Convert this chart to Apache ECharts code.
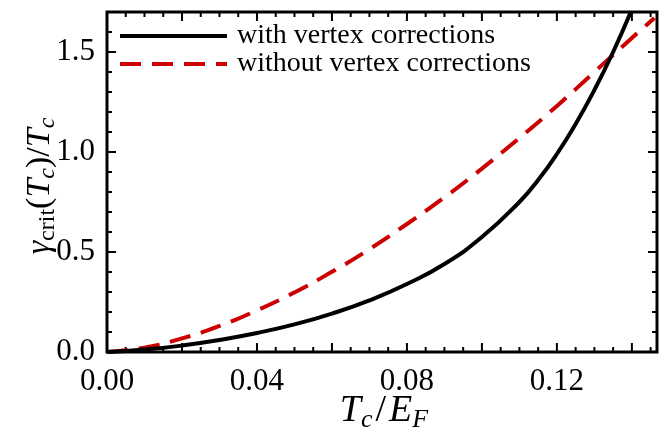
<!DOCTYPE html>
<html>
<head>
<meta charset="utf-8">
<script src="https://cdn.jsdelivr.net/npm/echarts@6/dist/echarts.min.js"></script>
<style>html,body{margin:0;padding:0;background:#fff}#c{width:666px;height:435px}</style>
</head>
<body>
<div id="c"></div>
<script>
// ---- data ----
const seriesNames = ['with vertex corrections', 'without vertex corrections'];
const withX  = [0, 0.01, 0.02, 0.03, 0.04, 0.05, 0.06, 0.07, 0.08, 0.09, 0.10, 0.11, 0.115, 0.12, 0.125, 0.13, 0.135, 0.1397];
const withY  = [0, 0.012, 0.032, 0.06, 0.095, 0.138, 0.192, 0.258, 0.34, 0.44, 0.575, 0.75, 0.86, 0.99, 1.14, 1.31, 1.50, 1.70];
const withoutX = [0, 0.01, 0.02, 0.03, 0.04, 0.05, 0.06, 0.07, 0.08, 0.09, 0.10, 0.11, 0.12, 0.13, 0.14, 0.146];
const withoutY = [0, 0.022, 0.068, 0.130, 0.208, 0.298, 0.401, 0.514, 0.64, 0.773, 0.917, 1.07, 1.23, 1.40, 1.57, 1.67];
const xTickLabels = ['0.00', '0.04', '0.08', '0.12'];
const yTickLabels = ['0.0', '0.5', '1.0', '1.5'];
const xMajorTicks = [0.02, 0.04, 0.06, 0.08, 0.10, 0.12, 0.14];
const xMinorTicks = [0.005, 0.01, 0.015, 0.025, 0.03, 0.035, 0.045, 0.05, 0.055, 0.065, 0.07, 0.075,
                     0.085, 0.09, 0.095, 0.105, 0.11, 0.115, 0.125, 0.13, 0.135, 0.145];
const yMajorTicks = [0.5, 1.0, 1.5];
const yMinorTicks = [0.1, 0.2, 0.3, 0.4, 0.6, 0.7, 0.8, 0.9, 1.1, 1.2, 1.3, 1.4, 1.6];
const xRange = [0, 0.1467];
const yRange = [0, 1.7];

const FONT = 'Liberation Serif';
const GRID = { left: 107, right: 9, top: 12, bottom: 83 };
const PW = 666 - GRID.left - GRID.right, PH = 435 - GRID.top - GRID.bottom;
const MAJOR_LEN = 9, MINOR_LEN = 5;  // pixels

// frame ticks (inward on all four sides), as broken line segments in data space
const dx = px => px / PW * (xRange[1] - xRange[0]);
const dy = px => px / PH * (yRange[1] - yRange[0]);
const tickSegs = [];
function addX(v, len) {
  tickSegs.push([v, yRange[0]], [v, yRange[0] + dy(len)], '-', [v, yRange[1]], [v, yRange[1] - dy(len)], '-');
}
function addY(v, len) {
  tickSegs.push([xRange[0], v], [xRange[0] + dx(len), v], '-', [xRange[1], v], [xRange[1] - dx(len), v], '-');
}
xMajorTicks.forEach(v => addX(v, MAJOR_LEN));
xMinorTicks.forEach(v => addX(v, MINOR_LEN));
yMajorTicks.forEach(v => addY(v, MAJOR_LEN));
yMinorTicks.forEach(v => addY(v, MINOR_LEN));

const pairs = (xs, ys) => xs.map((x, i) => [x, ys[i]]);

const option = {
  animation: false,
  backgroundColor: '#fff',
  grid: Object.assign({ show: true, borderColor: '#000', borderWidth: 3 }, GRID),
  xAxis: {
    type: 'value', min: xRange[0], max: xRange[1], interval: 0.04,
    axisLine: { show: false }, axisTick: { show: false }, splitLine: { show: false },
    axisLabel: { show: true, margin: 14, color: '#000', fontFamily: FONT, fontSize: 31, showMaxLabel: false,
      formatter: v => { const s = v.toFixed(2); return xTickLabels.includes(s) ? s : ''; } }
  },
  yAxis: {
    type: 'value', min: yRange[0], max: yRange[1], interval: 0.5,
    axisLine: { show: false }, axisTick: { show: false }, splitLine: { show: false },
    axisLabel: { show: true, margin: 12, color: '#000', fontFamily: FONT, fontSize: 31, showMaxLabel: false,
      formatter: v => { const s = v.toFixed(1); return yTickLabels.includes(s) ? s : ''; } }
  },
  legend: {
    orient: 'vertical', left: 118, top: 22, padding: 0, itemWidth: 107, itemHeight: 16, itemGap: 0,
    itemStyle: { opacity: 0 },
    lineStyle: { width: 4 },
    textStyle: { fontFamily: FONT, fontSize: 28, lineHeight: 28, color: '#000', padding: [0, 0, 0, 5] },
    data: seriesNames
  },
  series: [
    {
      name: 'frame ticks', type: 'line', data: tickSegs, connectNulls: false, smooth: false,
      symbol: 'none', silent: true, z: 1, clip: false,
      lineStyle: { color: '#000', width: 2, cap: 'butt' }
    },
    {
      name: seriesNames[0], type: 'line', smooth: true,
      symbol: 'none', clip: true, z: 3,
      lineStyle: { color: '#000', width: 4 }, itemStyle: { color: '#000' },
      data: pairs(withX, withY)
    },
    {
      name: seriesNames[1], type: 'line', smooth: true,
      symbol: 'none', clip: true, z: 2,
      lineStyle: { color: '#cc0000', width: 4, type: [21, 11] }, itemStyle: { color: '#cc0000' },
      data: pairs(withoutX, withoutY)
    }
  ],
  graphic: [
    {
      type: 'text', x: 384, y: 411,
      style: {
        text: '{i|T}{s|c}{u|/}{i|E}{s|F}', align: 'center', verticalAlign: 'middle',
        rich: {
          i: { fontFamily: FONT, fontStyle: 'italic', fontSize: 38, fill: '#000', lineHeight: 44 },
          u: { fontFamily: FONT, fontSize: 38, fill: '#000', lineHeight: 44, padding: [0, 3, 0, 3] },
          s: { fontFamily: FONT, fontStyle: 'italic', fontSize: 26, fill: '#000', lineHeight: 44, padding: [18, 0, 0, 0] }
        }
      }
    },
    {
      type: 'text', x: 40, y: 186, rotation: Math.PI / 2,
      style: {
        text: '{i|γ}{su|crit}{u|(}{i|T}{s|c}{u|)/}{i|T}{s|c}', align: 'center', verticalAlign: 'middle',
        rich: {
          i: { fontFamily: FONT, fontStyle: 'italic', fontSize: 34, fill: '#000', lineHeight: 42 },
          u: { fontFamily: FONT, fontSize: 34, fill: '#000', lineHeight: 42 },
          s: { fontFamily: FONT, fontStyle: 'italic', fontSize: 24, fill: '#000', lineHeight: 42, padding: [16, 0, 0, 0] },
          su: { fontFamily: FONT, fontSize: 24, fill: '#000', lineHeight: 42, padding: [16, 0, 0, 0] }
        }
      }
    }
  ]
};

const chart = echarts.init(document.getElementById('c'), null, { renderer: 'canvas' });
chart.setOption(option);
</script>
</body>
</html>
